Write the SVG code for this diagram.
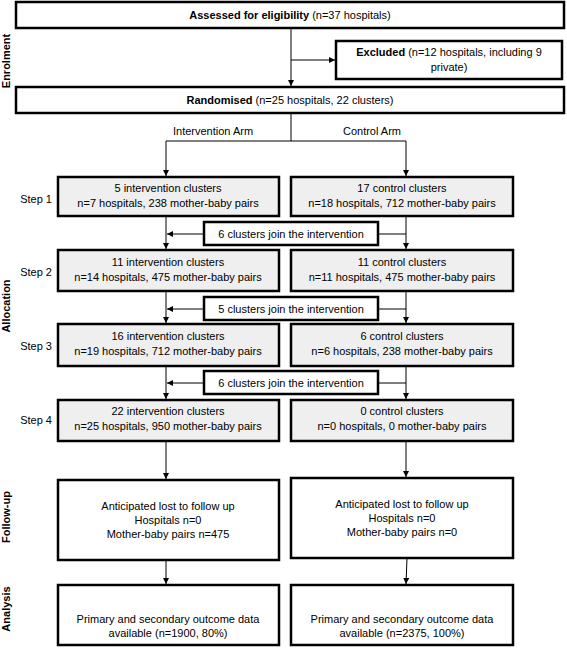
<svg xmlns="http://www.w3.org/2000/svg" width="567" height="656" viewBox="0 0 567 656">
<defs>
<marker id="ah" viewBox="0 0 10 10" refX="10" refY="5" markerWidth="6" markerHeight="6" markerUnits="userSpaceOnUse" orient="auto">
<path d="M0,0 L10,5 L0,10 z" fill="#000"/>
</marker>
<style>
text{font-family:"Liberation Sans",Arial,sans-serif;font-size:11px;fill:#000}
.c{text-anchor:middle}
.b{font-weight:bold}
.side{font-weight:bold;font-size:11px;text-anchor:middle}
.box{fill:#fff;stroke:#000;stroke-width:2.5}
.grey{fill:#efefef;stroke:#000;stroke-width:2.5}
.ln{fill:none;stroke:#000;stroke-width:1}
.arr{fill:none;stroke:#000;stroke-width:1;marker-end:url(#ah)}
</style>
</defs>
<rect width="567" height="656" fill="#fff"/>

<g id="side-labels">
<text class="side" transform="translate(10,61) rotate(-90)">Enrolment</text>
<text class="side" transform="translate(10,306) rotate(-90)">Allocation</text>
<text class="side" transform="translate(10,517) rotate(-90)">Follow-up</text>
<text class="side" transform="translate(10,609) rotate(-90)">Analysis</text>
</g>

<g id="step-labels">
<text x="52" y="203" text-anchor="end">Step 1</text>
<text x="52" y="276" text-anchor="end">Step 2</text>
<text x="52" y="350" text-anchor="end">Step 3</text>
<text x="52" y="424" text-anchor="end">Step 4</text>
</g>

<g id="connectors">
<path class="arr" d="M291,28 V86"/>
<path class="arr" d="M291,60 H335"/>
<path class="ln" d="M291,113 V141 M166,141 H406"/>
<path class="arr" d="M166,141 V176"/>
<path class="arr" d="M406,141 V176"/>
<text class="c" x="213" y="135">Intervention Arm</text>
<text class="c" x="372" y="135">Control Arm</text>
<path class="arr" d="M166,216 V249"/>
<path class="arr" d="M406,216 V249"/>
<path class="arr" d="M204,234 H167"/>
<path class="ln" d="M378,234 H406"/>
<path class="arr" d="M166,291 V323"/>
<path class="arr" d="M406,291 V323"/>
<path class="arr" d="M204,309 H167"/>
<path class="ln" d="M378,309 H406"/>
<path class="arr" d="M166,366 V399"/>
<path class="arr" d="M406,366 V399"/>
<path class="arr" d="M204,383 H167"/>
<path class="ln" d="M378,383 H406"/>
<path class="arr" d="M166,441 V479"/>
<path class="arr" d="M406,441 V477"/>
<path class="arr" d="M166,560 V584"/>
<path class="arr" d="M407,558 L406,584"/>
</g>

<g id="assessed">
<rect class="box" x="16" y="2" width="548" height="26"/>
<text class="c" x="290" y="19"><tspan class="b">Assessed for eligibility</tspan> (n=37 hospitals)</text>
</g>
<g id="excluded">
<rect class="box" x="336" y="41" width="226" height="38"/>
<text class="c" x="449" y="56"><tspan class="b">Excluded</tspan> (n=12 hospitals, including 9</text>
<text class="c" x="449" y="71">private)</text>
</g>
<g id="randomised">
<rect class="box" x="16" y="87" width="548" height="26"/>
<text class="c" x="290" y="104"><tspan class="b">Randomised</tspan> (n=25 hospitals, 22 clusters)</text>
</g>

<g id="step1-int">
<rect class="grey" x="58" y="177" width="221" height="39"/>
<text class="c" x="168" y="192">5 intervention clusters</text>
<text class="c" x="168" y="207">n=7 hospitals, 238 mother-baby pairs</text>
</g>
<g id="step1-ctl">
<rect class="grey" x="291" y="177" width="222" height="39"/>
<text class="c" x="402" y="192">17 control clusters</text>
<text class="c" x="402" y="207">n=18 hospitals, 712 mother-baby pairs</text>
</g>
<g id="join1">
<rect class="box" x="204" y="222" width="174" height="23"/>
<text class="c" x="291" y="238">6 clusters join the intervention</text>
</g>

<g id="step2-int">
<rect class="grey" x="58" y="250" width="221" height="41"/>
<text class="c" x="168" y="266">11 intervention clusters</text>
<text class="c" x="168" y="281">n=14 hospitals, 475 mother-baby pairs</text>
</g>
<g id="step2-ctl">
<rect class="grey" x="291" y="250" width="222" height="41"/>
<text class="c" x="402" y="266">11 control clusters</text>
<text class="c" x="402" y="281">n=11 hospitals, 475 mother-baby pairs</text>
</g>
<g id="join2">
<rect class="box" x="204" y="297" width="174" height="23"/>
<text class="c" x="291" y="313">5 clusters join the intervention</text>
</g>

<g id="step3-int">
<rect class="grey" x="58" y="324" width="221" height="42"/>
<text class="c" x="168" y="340">16 intervention clusters</text>
<text class="c" x="168" y="355">n=19 hospitals, 712 mother-baby pairs</text>
</g>
<g id="step3-ctl">
<rect class="grey" x="291" y="324" width="222" height="42"/>
<text class="c" x="402" y="340">6 control clusters</text>
<text class="c" x="402" y="355">n=6 hospitals, 238 mother-baby pairs</text>
</g>
<g id="join3">
<rect class="box" x="204" y="371" width="174" height="23"/>
<text class="c" x="291" y="387">6 clusters join the intervention</text>
</g>

<g id="step4-int">
<rect class="grey" x="58" y="400" width="221" height="41"/>
<text class="c" x="168" y="415">22 intervention clusters</text>
<text class="c" x="168" y="430">n=25 hospitals, 950 mother-baby pairs</text>
</g>
<g id="step4-ctl">
<rect class="grey" x="291" y="400" width="222" height="41"/>
<text class="c" x="402" y="415">0 control clusters</text>
<text class="c" x="402" y="430">n=0 hospitals, 0 mother-baby pairs</text>
</g>

<g id="followup-int">
<rect class="box" x="58" y="480" width="221" height="80"/>
<text class="c" x="168" y="510">Anticipated lost to follow up</text>
<text class="c" x="168" y="524">Hospitals n=0</text>
<text class="c" x="168" y="538">Mother-baby pairs n=475</text>
</g>
<g id="followup-ctl">
<rect class="box" x="291" y="478" width="222" height="80"/>
<text class="c" x="402" y="508">Anticipated lost to follow up</text>
<text class="c" x="402" y="522">Hospitals n=0</text>
<text class="c" x="402" y="536">Mother-baby pairs n=0</text>
</g>

<g id="analysis-int">
<rect class="box" x="58" y="585" width="221" height="60"/>
<text class="c" x="168" y="623">Primary and secondary outcome data</text>
<text class="c" x="168" y="637">available (n=1900, 80%)</text>
</g>
<g id="analysis-ctl">
<rect class="box" x="291" y="585" width="222" height="60"/>
<text class="c" x="402" y="623">Primary and secondary outcome data</text>
<text class="c" x="402" y="637">available (n=2375, 100%)</text>
</g>
</svg>
